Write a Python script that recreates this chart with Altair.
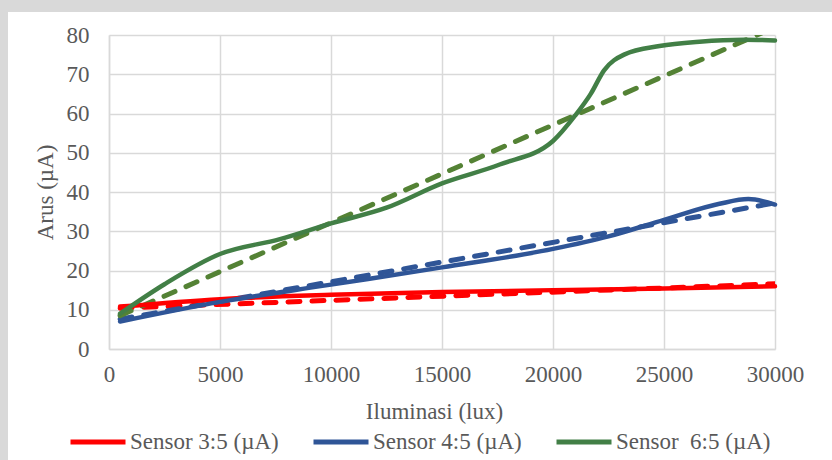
import altair as alt
import pandas as pd

# Measured current (µA) against illuminance (lux) for three sensors
lux_s3 = [500, 5000, 10000, 15000, 20000, 25000, 30000]
cur_s3 = [10.8, 12.7, 13.8, 14.5, 15.0, 15.4, 16.0]

lux_s4 = [500, 5000, 10000, 15000, 20000, 22500, 25000, 27500, 28800, 30000]
cur_s4 = [7.0, 12.0, 16.4, 20.8, 25.5, 28.7, 32.9, 37.0, 38.2, 36.8]

lux_s6 = [500, 2500, 5000, 7700, 10000, 12500, 15000, 17600, 20000,
          21000, 21700, 22300, 23200, 24800, 26600, 28600, 30000]
cur_s6 = [9.0, 16.5, 24.2, 28.0, 32.0, 36.0, 42.2, 47.0, 53.0,
          59.5, 65.0, 71.0, 75.0, 77.2, 78.3, 78.8, 78.6]

# Linear trend lines (start / end)
trend_lux = [500, 30000]
trend_s3 = [10.4, 16.6]
trend_s4 = [7.6, 37.2]
trend_s6 = [8.5, 82.0]

names = ["Sensor 3:5 (µA)", "Sensor 4:5 (µA)", "Sensor \u00a06:5 (µA)"]
line_colors = ["#ff0000", "#2f5597", "#427f46"]
trend_colors = ["#ff0000", "#2f5597", "#548235"]

x_ticks = [0, 5000, 10000, 15000, 20000, 25000, 30000]
y_ticks = [0, 10, 20, 30, 40, 50, 60, 70, 80]

rows = []
for name, xs, ys in zip(names, [lux_s3, lux_s4, lux_s6], [cur_s3, cur_s4, cur_s6]):
    for x, y in zip(xs, ys):
        rows.append({"sensor": name, "lux": x, "arus": y})
measured = pd.DataFrame(rows)

trows = []
for name, col, ys in zip(names, trend_colors, [trend_s3, trend_s4, trend_s6]):
    for x, y in zip(trend_lux, ys):
        trows.append({"sensor": name, "lux": x, "arus": y, "color": col})
trend = pd.DataFrame(trows)

FONT = "Liberation Serif"
TXT = "#595959"
GRID = "#d9d9d9"

x_enc = alt.X(
    "lux:Q",
    scale=alt.Scale(domain=[0, 30000], nice=False),
    axis=alt.Axis(
        values=x_ticks, format="d", title="Iluminasi (lux)",
        labelPadding=14, labelFlush=False, titleX=325, titleY=62,
        titleBaseline="middle",
    ),
)
y_enc = alt.Y(
    "arus:Q",
    scale=alt.Scale(domain=[0, 80], nice=False),
    axis=alt.Axis(
        values=y_ticks, format="d", title="Arus (µA)",
        labelPadding=20, labelFlush=False, titleX=-64, titleY=157,
        titleAngle=270, titleAlign="center", titleBaseline="middle",
    ),
)

trend_layer = alt.Chart(trend).mark_line(
    strokeWidth=5, strokeDash=[12, 12], strokeCap="round", clip=True
).encode(
    x=x_enc,
    y=y_enc,
    detail="sensor:N",
    color=alt.Color("color:N", scale=None),
)

line_layer = alt.Chart(measured).mark_line(
    strokeWidth=4.5, interpolate="monotone", strokeCap="round"
).encode(
    x=x_enc,
    y=y_enc,
    color=alt.Color(
        "sensor:N",
        scale=alt.Scale(domain=names, range=line_colors),
        sort=names,
        legend=alt.Legend(
            title=None, orient="none", direction="horizontal",
            legendX=-41, legendY=377, symbolType="stroke",
            symbolSize=3025, symbolStrokeWidth=5, labelFont=FONT,
            labelFontSize=23, labelColor=TXT, labelOffset=2,
            columnPadding=24, labelLimit=300, padding=0,
        ),
    ),
)

# Grey frame strips along the top and left edges of the page
blank = alt.Data(values=[{}])
frame_left = alt.Chart(blank).mark_rect(color=GRID).encode(
    x=alt.value(-109), x2=alt.value(-101), y=alt.value(-35), y2=alt.value(425)
)
frame_top = alt.Chart(blank).mark_rect(color=GRID).encode(
    x=alt.value(-109), x2=alt.value(723), y=alt.value(-35), y2=alt.value(-23)
)

chart = (
    alt.layer(frame_left, frame_top, trend_layer, line_layer)
    .properties(
        width=666, height=314,
        autosize=alt.AutoSizeParams(type="none"),
        padding={"left": 109, "top": 35, "right": 57, "bottom": 111},
        background="white",
    )
    .configure_axis(
        labelFont=FONT, labelFontSize=23, labelColor=TXT,
        titleFont=FONT, titleFontSize=23, titleColor=TXT, titleFontWeight="normal",
        grid=True, gridColor=GRID, gridWidth=1.5,
        domainColor=GRID, domainWidth=1.5, ticks=False,
    )
    .configure_view(stroke=None)
)

chart.save("out.html", embed_options={"renderer": "svg", "actions": False})
